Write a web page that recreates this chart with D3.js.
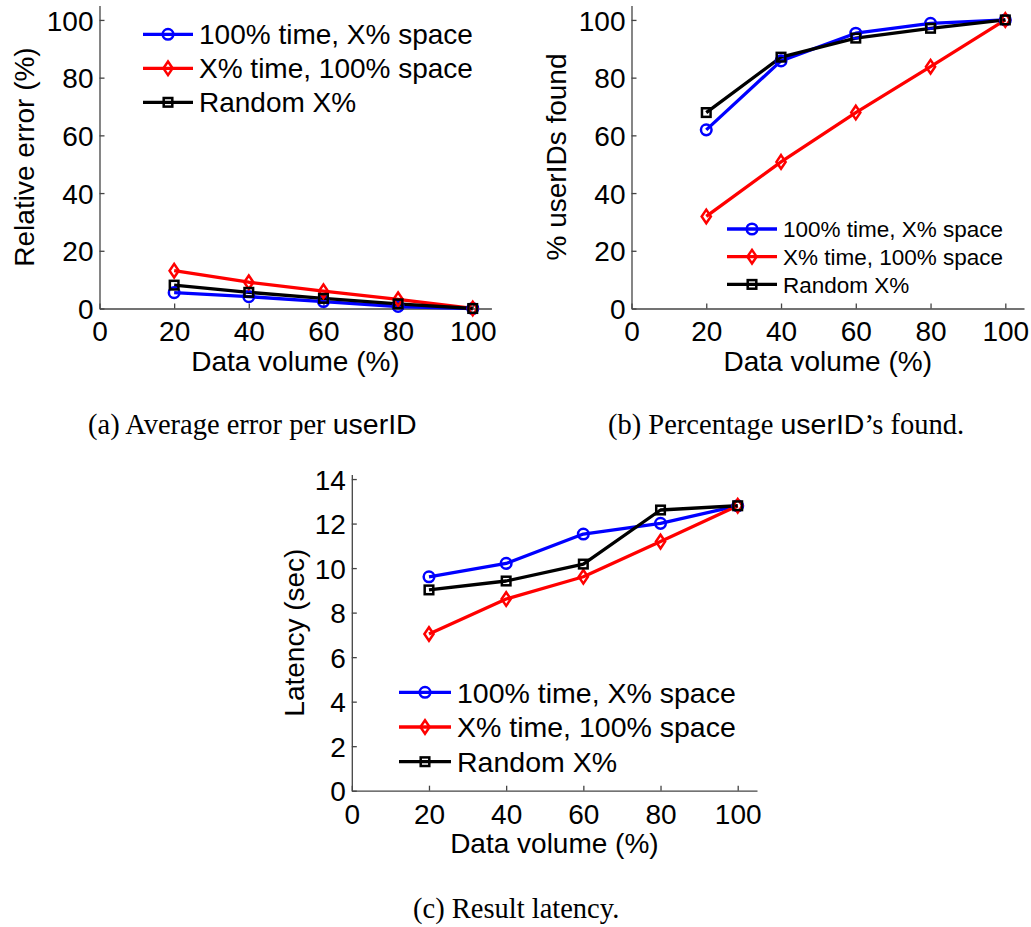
<!DOCTYPE html>
<html>
<head>
<meta charset="utf-8">
<script src="https://d3js.org/d3.v7.min.js"></script>
<style>
  body { margin: 0; background: #fff; }
  svg { display: block; }
  .tick text { font-family: "Liberation Sans", Arial, sans-serif; }
</style>
</head>
<body>
<svg id="fig" width="1031" height="927"></svg>
<script>
// x positions shared by all three panels
var volumes = [20, 40, 60, 80, 100];
var xTicks = [0, 20, 40, 60, 80, 100];
var seriesNames = ["100% time, X% space", "X% time, 100% space", "Random X%"];

// (a) relative error (%)
var errSpace = [5.5, 4.1, 2.4, 0.7, 0];
var errTime = [13.1, 9.1, 6.0, 3.2, 0];
var errRandom = [8.1, 5.6, 3.5, 1.6, 0];
var errTicks = [0, 20, 40, 60, 80, 100];

// (b) % userIDs found
var foundSpace = [61.9, 85.8, 95.4, 98.8, 100];
var foundTime = [31.9, 50.8, 67.9, 83.8, 100];
var foundRandom = [67.9, 87.1, 93.7, 97.1, 100];
var foundTicks = [0, 20, 40, 60, 80, 100];

// (c) latency (sec)
var latSpace = [9.61, 10.21, 11.53, 12.01, 12.8];
var latTime = [7.04, 8.61, 9.61, 11.19, 12.8];
var latRandom = [9.02, 9.42, 10.18, 12.61, 12.8];
var latTicks = [0, 2, 4, 6, 8, 10, 12, 14];

var colors = ["#0000ff", "#ff0000", "#000000"];
var markers = ["circle", "diamond", "square"];
var sans = '"Liberation Sans", Arial, sans-serif';
var serif = '"Liberation Serif", "Times New Roman", serif';

var svg = d3.select("#fig");

function drawMarker(g, type, cx, cy, color) {
  if (type == "circle") {
    g.append("circle").attr("cx", cx).attr("cy", cy).attr("r", 5.3)
      .attr("fill", "none").attr("stroke", color).attr("stroke-width", 2.5);
  } else if (type == "diamond") {
    g.append("path")
      .attr("d", "M" + cx + "," + (cy - 6.8) + "L" + (cx + 4.6) + "," + cy + "L" + cx + "," + (cy + 6.8) + "L" + (cx - 4.6) + "," + cy + "Z")
      .attr("fill", "none").attr("stroke", color).attr("stroke-width", 2.5);
  } else {
    g.append("rect").attr("x", cx - 4.3).attr("y", cy - 4.3).attr("width", 8.6).attr("height", 8.6)
      .attr("fill", "none").attr("stroke", color).attr("stroke-width", 2.5);
  }
}

function drawPanel(p) {
  var x = d3.scaleLinear().domain([0, 105]).range([p.left, p.right]);
  var y = d3.scaleLinear().domain([0, p.ymax]).range([p.bottom, p.top]);
  var g = svg.append("g");

  // axes (MATLAB style, ticks pointing inward)
  var xAxis = g.append("g")
    .attr("transform", "translate(0," + p.bottom + ")")
    .call(d3.axisBottom(x).tickValues(xTicks).tickSizeInner(-5).tickSizeOuter(0).tickPadding(13));
  var yAxis = g.append("g")
    .attr("transform", "translate(" + p.left + ",0)")
    .call(d3.axisLeft(y).tickValues(p.yTicks).tickSizeInner(-5).tickSizeOuter(0).tickPadding(6));
  [xAxis, yAxis].forEach(function(a) {
    a.select(".domain").attr("stroke", "#444").attr("stroke-width", 1.3);
    a.selectAll(".tick line").attr("stroke", "#444").attr("stroke-width", 1.3);
    a.selectAll(".tick text").attr("fill", "#000").style("font-size", "28px");
  });
  xAxis.selectAll(".tick text").attr("dy", "0.71em");
  yAxis.selectAll(".tick text").attr("dy", "0.36em");

  // axis labels
  g.append("text")
    .attr("x", (p.left + p.right) / 2).attr("y", p.bottom + 62)
    .attr("text-anchor", "middle")
    .style("font-family", sans).style("font-size", "28px")
    .text("Data volume (%)");
  g.append("text")
    .attr("transform", "translate(" + p.ylabelX + "," + ((p.top + p.bottom) / 2) + ") rotate(-90)")
    .attr("text-anchor", "middle")
    .style("font-family", sans).style("font-size", "28px")
    .text(p.ylabel);

  // lines and markers
  var line = d3.line()
    .x(function(d, i) { return x(volumes[i]); })
    .y(function(d) { return y(d); });

  p.series.forEach(function(s, k) {
    g.append("path")
      .datum(s)
      .attr("class", "line")
      .attr("fill", "none")
      .attr("stroke", colors[k])
      .attr("stroke-width", 3.3)
      .attr("stroke-linejoin", "round")
      .attr("d", line);
  });
  p.series.forEach(function(s, k) {
    s.forEach(function(v, i) {
      drawMarker(g, markers[k], x(volumes[i]), y(v), colors[k]);
    });
  });

  // legend
  var lg = g.append("g");
  seriesNames.forEach(function(name, k) {
    var ly = p.legY + k * p.legStep;
    lg.append("line")
      .attr("x1", p.legX).attr("x2", p.legX + p.legLine)
      .attr("y1", ly).attr("y2", ly)
      .attr("stroke", colors[k]).attr("stroke-width", 3.3);
    drawMarker(lg, markers[k], p.legX + p.legLine / 2, ly, colors[k]);
    lg.append("text")
      .attr("x", p.legX + p.legLine + 6).attr("y", ly)
      .attr("dy", "0.36em")
      .style("font-family", sans).style("font-size", p.legFont + "px")
      .text(name);
  });

  // caption under the panel
  var cap = g.append("text")
    .attr("x", p.capX).attr("y", p.capY)
    .style("font-family", serif)
    .style("font-size", "28.5px");
  p.caption.forEach(function(part) {
    cap.append("tspan")
      .style("font-family", part.sf ? sans : null)
      .text(part.t);
  });
}

drawPanel({
  left: 99.5, right: 491.4, top: 5.5, bottom: 308.5, ymax: 105,
  yTicks: errTicks, ylabel: "Relative error (%)", ylabelX: 34,
  series: [errSpace, errTime, errRandom],
  legX: 143, legY: 34.3, legStep: 34, legLine: 50, legFont: 28,
  caption: [{t: "(a) Average error per "}, {t: "userID", sf: true}],
  capX: 88, capY: 434
});

drawPanel({
  left: 631.5, right: 1024, top: 5.5, bottom: 308.5, ymax: 105,
  yTicks: foundTicks, ylabel: "% userIDs found", ylabelX: 566,
  series: [foundSpace, foundTime, foundRandom],
  legX: 727, legY: 229, legStep: 27.7, legLine: 50, legFont: 22.5,
  caption: [{t: "(b) Percentage "}, {t: "userID", sf: true}, {t: "\u2019s found."}],
  capX: 608, capY: 434
});

drawPanel({
  left: 351.8, right: 757, top: 474.6, bottom: 790.7, ymax: 14.2,
  yTicks: latTicks, ylabel: "Latency (sec)", ylabelX: 304,
  series: [latSpace, latTime, latRandom],
  legX: 399, legY: 692.3, legStep: 34.7, legLine: 52, legFont: 28.5,
  caption: [{t: "(c) Result latency."}],
  capX: 413, capY: 918
});
</script>
</body>
</html>
